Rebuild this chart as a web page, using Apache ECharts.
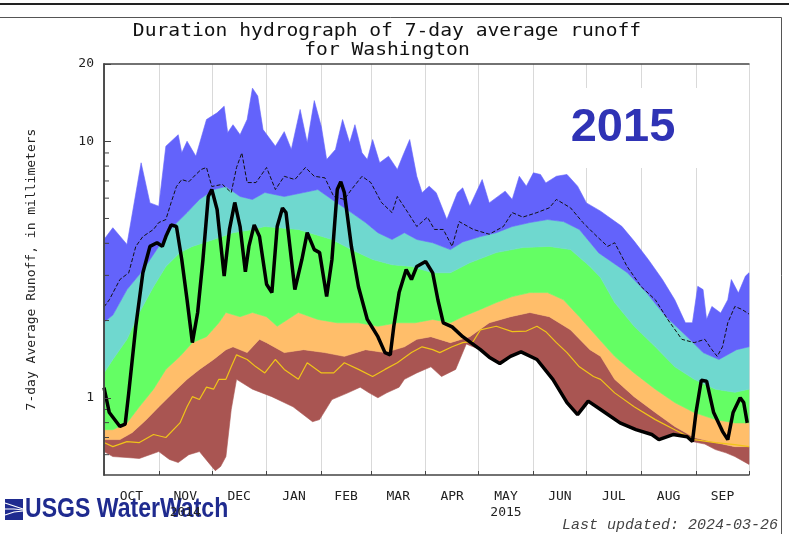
<!DOCTYPE html>
<html>
<head>
<meta charset="utf-8">
<title>Duration hydrograph of 7-day average runoff for Washington</title>
<script src="https://cdn.jsdelivr.net/npm/echarts@6.0.0/dist/echarts.min.js"></script>
<style>
  html, body { margin: 0; padding: 0; background: #fff; }
  #hydrograph { width: 789px; height: 534px; }
</style>
</head>
<body>
<div id="hydrograph"></div>
<script>
// day of water year (0 = Oct 1 2014) and 7-day average runoff, mm
const monthStarts = [0, 31, 61, 92, 123, 151, 182, 212, 243, 273, 304, 335, 365];
const monthMids = [15.5, 46, 76.5, 107.5, 137, 166.5, 197, 227.5, 258, 288.5, 319.5, 350];
const monthLabels = ['OCT', 'NOV\n2014', 'DEC', 'JAN', 'FEB', 'MAR', 'APR', 'MAY\n2015', 'JUN', 'JUL', 'AUG', 'SEP'];
const minorTickValues = [0.6, 0.7, 0.8, 0.9, 2, 3, 4, 5, 6, 7, 8, 9];

const maxRunoff = [[0,4.14],[5,4.60],[13,3.96],[21,8.24],[26,5.75],[31,5.58],[35,9.56],[42,10.6],[44,9.01],[47,10.0],[52,8.74],[58,12.15],[64,12.9],[68,13.7],[70,10.8],[73,11.6],[77,10.6],[81,12.15],[84,16.1],[87,15.0],[90,11.1],[97,9.56],[102,10.9],[106,9.29],[111,13.3],[115,9.86],[119,14.4],[123,11.4],[126,8.48],[131,9.29],[135,12.15],[139,9.86],[142,11.6],[146,9.01],[149,8.48],[152,10.15],[156,8.24],[161,8.74],[166,7.76],[169,8.74],[173,10.15],[177,7.30],[180,6.30],[184,6.68],[188,6.30],[194,4.95],[200,6.30],[203,6.58],[207,5.58],[214,7.09],[218,5.75],[227,6.39],[231,5.93],[235,7.30],[239,6.68],[243,7.53],[247,7.42],[250,6.88],[256,7.30],[262,7.42],[268,6.68],[273,5.75],[281,5.34],[285,5.10],[293,4.66],[300,4.08],[308,3.46],[316,2.89],[323,2.41],[329,1.96],[333,1.96],[336,2.72],[339,2.64],[341,2.02],[344,2.27],[349,2.14],[353,2.41],[355,2.89],[359,2.56],[363,2.98],[365,3.07]];
const p90Runoff = [[0,1.97],[5,2.10],[13,2.64],[22,3.14],[31,3.89],[39,4.65],[47,5.27],[54,5.93],[62,6.48],[69,6.66],[77,6.09],[84,5.93],[91,6.31],[102,6.09],[113,6.31],[121,6.48],[129,5.93],[140,5.27],[148,4.82],[155,4.40],[163,4.14],[170,4.40],[177,4.14],[186,4.02],[196,3.78],[203,4.05],[213,4.25],[222,4.40],[231,4.65],[241,4.82],[251,4.95],[260,4.86],[269,4.53],[280,3.67],[296,3.08],[307,2.57],[318,2.07],[330,1.73],[339,1.50],[348,1.41],[358,1.54],[365,1.58]];
const p75Runoff = [[0,1.25],[5,1.41],[13,1.69],[20,2.15],[28,2.71],[35,3.25],[43,3.68],[50,3.89],[62,4.14],[73,4.40],[84,4.53],[91,4.65],[110,4.53],[129,4.14],[140,3.78],[152,3.46],[163,3.30],[174,3.25],[186,3.07],[196,3.07],[207,3.36],[222,3.68],[237,3.85],[252,3.89],[264,3.78],[275,3.25],[281,2.94],[289,2.35],[300,1.90],[312,1.58],[323,1.32],[334,1.18],[346,1.08],[357,1.05],[365,1.08]];
const p25Runoff = [[0,0.751],[5,0.751],[13,0.798],[20,0.922],[28,1.08],[35,1.29],[43,1.45],[50,1.64],[58,1.73],[65,1.96],[69,2.15],[77,2.07],[84,2.15],[92,2.07],[98,1.90],[110,2.15],[121,2.02],[132,1.96],[144,1.96],[155,1.90],[166,1.96],[176,1.96],[186,2.02],[196,1.96],[203,2.07],[213,2.21],[222,2.35],[231,2.48],[241,2.57],[251,2.57],[260,2.41],[269,2.07],[279,1.73],[289,1.45],[300,1.25],[312,1.08],[323,0.958],[334,0.876],[346,0.822],[357,0.798],[365,0.798]];
const p10Runoff = [[0,0.687],[9,0.687],[16,0.732],[24,0.822],[31,0.922],[39,1.045],[47,1.18],[54,1.29],[62,1.41],[69,1.54],[73,1.58],[81,1.50],[88,1.69],[92,1.64],[102,1.50],[113,1.54],[125,1.50],[136,1.45],[148,1.54],[159,1.50],[170,1.58],[177,1.69],[185,1.73],[196,1.64],[207,1.73],[218,1.96],[230,2.07],[241,2.15],[252,2.07],[264,1.84],[275,1.54],[281,1.45],[289,1.18],[300,1.01],[312,0.876],[323,0.773],[334,0.70],[346,0.669],[357,0.645],[365,0.645]];
const minRunoff = [[0,0.617],[5,0.590],[13,0.585],[20,0.58],[31,0.617],[37,0.575],[42,0.559],[48,0.60],[54,0.617],[60,0.55],[63,0.520],[66,0.54],[69,0.590],[72,0.90],[75,1.18],[84,1.08],[95,1.01],[107,0.922],[118,0.807],[122,0.822],[129,0.984],[138,1.045],[145,1.10],[150,1.045],[155,1.0],[160,1.045],[167,1.10],[170,1.18],[177,1.25],[185,1.32],[191,1.21],[199,1.29],[205,1.62],[213,1.54],[218,1.44],[224,1.36],[230,1.45],[236,1.51],[245,1.41],[254,1.18],[262,0.958],[268,0.86],[274,0.97],[281,0.90],[292,0.798],[301,0.751],[310,0.719],[314,0.687],[322,0.719],[330,0.705],[333,0.675],[340,0.66],[346,0.628],[352,0.61],[357,0.59],[365,0.55]];
const meanRunoff = [[0,2.26],[3,2.41],[9,2.89],[14,3.07],[18,3.89],[22,4.25],[28,4.53],[31,4.82],[35,4.95],[38,5.77],[41,6.66],[44,7.09],[48,6.95],[52,7.42],[55,7.76],[58,7.9],[61,6.66],[67,6.79],[72,6.31],[75,7.9],[78,9.01],[81,6.9],[86,6.9],[92,7.9],[97,6.48],[102,7.3],[108,7.09],[114,7.9],[119,7.3],[125,7.2],[130,6.09],[136,5.93],[140,6.48],[146,7.3],[151,6.9],[157,5.77],[163,5.27],[166,6.09],[172,5.27],[177,4.65],[183,5.06],[187,4.53],[192,4.53],[197,3.89],[201,4.86],[209,4.53],[218,4.34],[226,4.65],[231,5.27],[237,5.06],[245,5.27],[252,5.5],[256,5.93],[264,5.5],[271,4.82],[279,4.25],[285,3.89],[289,4.02],[296,3.25],[304,2.71],[312,2.41],[319,2.02],[327,1.69],[334,1.64],[340,1.69],[344,1.54],[347,1.45],[350,1.58],[353,1.96],[357,2.27],[361,2.21],[365,2.12]];
const medianRunoff = [[0,0.669],[5,0.645],[13,0.675],[20,0.669],[28,0.719],[35,0.70],[43,0.798],[47,0.922],[50,1.01],[54,0.984],[58,1.10],[62,1.08],[65,1.18],[69,1.18],[72,1.32],[75,1.47],[81,1.41],[86,1.32],[91,1.25],[97,1.41],[102,1.29],[110,1.18],[115,1.37],[123,1.25],[130,1.25],[136,1.37],[144,1.29],[152,1.21],[159,1.29],[166,1.37],[174,1.50],[180,1.58],[186,1.54],[190,1.50],[197,1.58],[203,1.64],[209,1.66],[213,1.84],[222,1.90],[231,1.81],[239,1.82],[245,1.90],[250,1.81],[256,1.64],[262,1.50],[269,1.32],[277,1.21],[281,1.18],[289,1.045],[300,0.922],[312,0.822],[323,0.751],[334,0.687],[346,0.669],[357,0.657],[365,0.645]];
const runoff2015 = [[0,1.096],[3,0.876],[9,0.773],[12,0.79],[14,1.045],[18,1.90],[22,3.07],[26,3.89],[30,4.02],[33,3.89],[35,4.25],[38,4.72],[41,4.65],[44,3.46],[47,2.41],[50,1.64],[53,2.15],[56,3.46],[59,6.09],[61,6.48],[64,5.42],[68,2.98],[71,4.53],[74,5.77],[77,4.65],[80,3.10],[82,3.89],[85,4.72],[88,4.25],[92,2.77],[95,2.57],[98,4.65],[101,5.49],[103,5.27],[108,2.64],[112,3.46],[115,4.40],[119,3.78],[122,3.68],[126,2.48],[129,3.46],[132,6.48],[134,6.95],[136,6.31],[140,3.89],[144,2.71],[149,2.02],[155,1.73],[159,1.50],[162,1.47],[164,1.90],[167,2.57],[171,3.16],[174,2.89],[177,3.25],[182,3.40],[186,3.07],[189,2.4],[192,1.96],[197,1.89],[203,1.73],[213,1.54],[218,1.44],[224,1.36],[230,1.45],[236,1.51],[245,1.41],[254,1.18],[262,0.958],[268,0.86],[274,0.97],[281,0.90],[292,0.798],[301,0.751],[310,0.719],[314,0.687],[322,0.719],[330,0.705],[333,0.675],[335,0.876],[338,1.17],[341,1.16],[345,0.876],[350,0.74],[353,0.687],[356,0.876],[360,1.0],[362,0.958],[364,0.798]];

const MONO = "'DejaVu Sans Mono', monospace";

// filled band between two percentile curves
const bandSeries = (name, upper, lower, color) => ({
  name,
  type: 'custom',
  silent: true,
  data: [[0, 1]],
  renderItem: (params, api) => {
    const pts = upper.map((p) => api.coord(p))
      .concat(lower.slice().reverse().map((p) => api.coord(p)));
    return {
      type: 'polygon',
      shape: { points: pts },
      style: { fill: color, stroke: color, lineWidth: 0.6 },
    };
  },
});

const chart = echarts.init(document.getElementById('hydrograph'), null, { renderer: 'canvas' });
chart.setOption({
  animation: false,
  backgroundColor: '#fff',
  grid: { left: 104, right: 40, top: 64, bottom: 59 },
  xAxis: [
    {
      type: 'value',
      min: 0,
      max: 365,
      position: 'bottom',
      z: 5,
      axisLine: { show: true, lineStyle: { color: '#444', width: 1.5 } },
      axisTick: { show: true, inside: true, length: 4, customValues: monthStarts, lineStyle: { color: '#444' } },
      axisLabel: {
        customValues: monthMids,
        margin: 14,
        fontFamily: MONO,
        fontSize: 13,
        color: '#222',
        lineHeight: 16,
        formatter: (v) => monthLabels[monthMids.indexOf(v)],
      },
      splitLine: { show: false },
    },
    {
      type: 'value',
      min: 0,
      max: 365,
      position: 'top',
      z: 0,
      axisLine: { show: true, lineStyle: { color: '#444', width: 1.5 } },
      axisTick: { show: false, customValues: monthStarts },
      axisLabel: { show: false },
      splitLine: { show: true, lineStyle: { color: '#d9d9d9', width: 1 } },
    },
  ],
  yAxis: [
    {
      type: 'log',
      logBase: 10,
      min: 0.5,
      max: 20,
      position: 'left',
      z: 5,
      name: '7-day Average Runoff, in millimeters',
      nameLocation: 'middle',
      nameRotate: 90,
      nameGap: 66,
      nameTextStyle: { fontFamily: MONO, fontSize: 13, color: '#222' },
      axisLine: { show: true, lineStyle: { color: '#444', width: 1.5 } },
      axisTick: { show: true, inside: true, length: 7, lineStyle: { color: '#444' } },
      axisLabel: { showMinLabel: false, margin: 10, fontFamily: MONO, fontSize: 13, color: '#222' },
      splitLine: { show: false },
    },
    {
      type: 'log',
      logBase: 10,
      min: 0.5,
      max: 20,
      position: 'right',
      z: 5,
      axisLine: { show: true, lineStyle: { color: '#444', width: 1.5 } },
      axisTick: { show: false },
      axisLabel: { show: false },
      splitLine: { show: false },
    },
  ],
  series: [
    bandSeries('Minimum - 10th percentile', p10Runoff, minRunoff, '#a95552'),
    bandSeries('10th - 25th percentile', p25Runoff, p10Runoff, '#ffbe6a'),
    bandSeries('25th - 75th percentile', p75Runoff, p25Runoff, '#64fe64'),
    bandSeries('75th - 90th percentile', p90Runoff, p75Runoff, '#6fd8cf'),
    bandSeries('90th percentile - Maximum', maxRunoff, p90Runoff, '#6363fb'),
    {
      name: 'Median',
      type: 'line',
      data: medianRunoff,
      showSymbol: false,
      lineStyle: { color: '#f0c419', width: 1.2 },
    },
    {
      name: 'Mean',
      type: 'line',
      data: meanRunoff,
      showSymbol: false,
      lineStyle: { color: '#111', width: 1, type: [4, 2] },
    },
    {
      name: '2015',
      type: 'line',
      data: runoff2015,
      showSymbol: false,
      lineStyle: { color: '#000', width: 3.5 },
    },
    {
      // minor log ticks on the left axis
      name: 'minor ticks',
      type: 'custom',
      silent: true,
      data: minorTickValues.map((v) => [0, v]),
      renderItem: (params, api) => {
        const p = api.coord([0, api.value(1)]);
        return {
          type: 'line',
          shape: { x1: p[0], y1: p[1], x2: p[0] + 5, y2: p[1] },
          style: { stroke: '#444', lineWidth: 1 },
        };
      },
    },
  ],
  graphic: [
    { type: 'rect', z: 10, shape: { x: 0, y: 3, width: 789, height: 2 }, style: { fill: '#222' } },
    {
      type: 'polyline',
      z: 10,
      shape: { points: [[0, 17.5], [781.5, 17.5], [781.5, 534]] },
      style: { stroke: '#555', lineWidth: 1, fill: null },
    },
    {
      type: 'text',
      z: 10,
      x: 387,
      y: 41,
      scaleX: 1.155,
      style: {
        text: 'Duration hydrograph of 7-day average runoff\nfor Washington',
        font: "17px 'DejaVu Sans Mono'",
        fill: '#111',
        align: 'center',
        verticalAlign: 'middle',
        lineHeight: 19,
      },
    },
    { type: 'rect', z: 1, shape: { x: 558, y: 88, width: 180, height: 80 }, style: { fill: '#fff' } },
    {
      type: 'text',
      z: 10,
      x: 623,
      y: 128,
      style: {
        text: '2015',
        font: "bold 47px 'Liberation Sans', Arial, sans-serif",
        fill: '#2f33b5',
        align: 'center',
        verticalAlign: 'middle',
      },
    },
    {
      type: 'text',
      z: 10,
      x: 778,
      y: 525,
      style: {
        text: 'Last updated: 2024-03-26',
        font: "italic 15px 'Liberation Mono', monospace",
        fill: '#444',
        align: 'right',
        verticalAlign: 'middle',
      },
    },
    {
      type: 'group',
      z: 10,
      children: [
        { type: 'rect', shape: { x: 5, y: 499, width: 18, height: 21 }, style: { fill: '#1f2b8f' } },
        { type: 'polyline', shape: { points: [[5, 503], [14, 506], [23, 509]] }, style: { stroke: '#fff', lineWidth: 1.2, fill: null } },
        { type: 'polyline', shape: { points: [[5, 509], [14, 509], [23, 510]] }, style: { stroke: '#fff', lineWidth: 1.2, fill: null } },
        { type: 'polyline', shape: { points: [[5, 515], [14, 512], [23, 511]] }, style: { stroke: '#fff', lineWidth: 1.2, fill: null } },
        {
          type: 'text',
          x: 25,
          y: 510,
          scaleX: 0.854,
          style: {
            text: 'USGS WaterWatch',
            font: "bold 27px 'Liberation Sans', Arial, sans-serif",
            fill: '#1f2b8f',
            verticalAlign: 'middle',
          },
        },
      ],
    },
  ],
});
</script>
</body>
</html>
